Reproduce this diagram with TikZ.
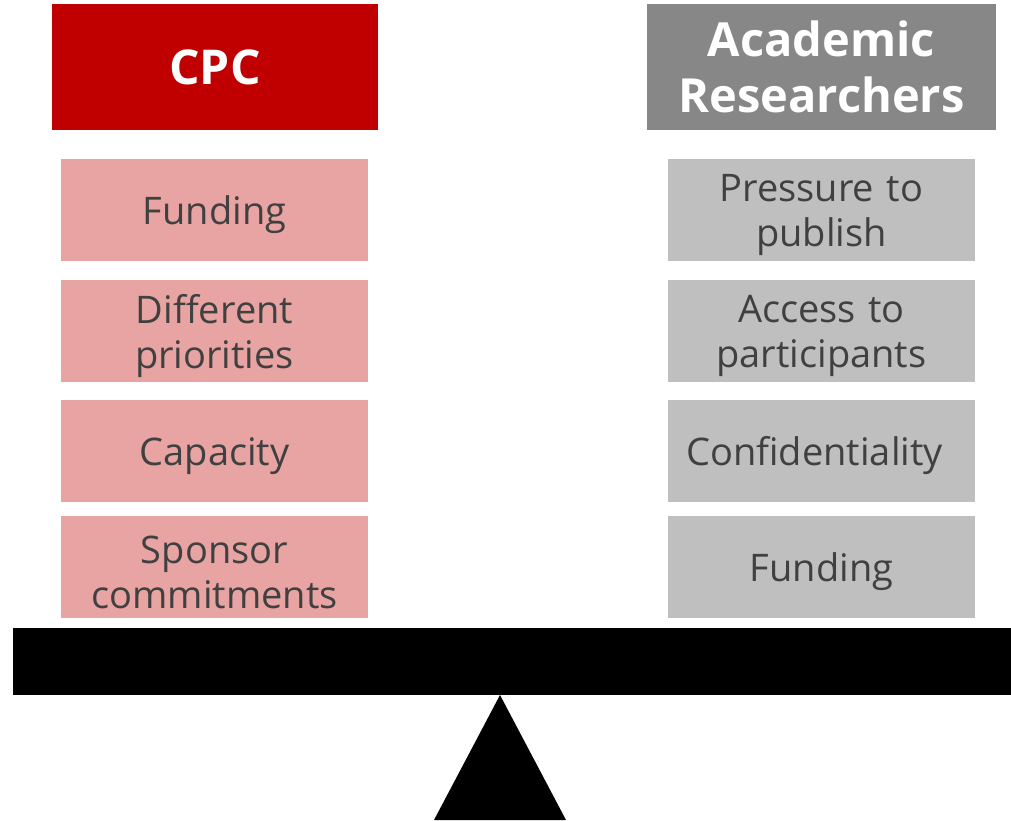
\documentclass[tikz,border=0pt]{standalone}
\usepackage{fontspec}
\setmainfont{Open Sans}
\definecolor{cpcred}{HTML}{C00000}
\definecolor{headgray}{HTML}{878787}
\definecolor{pinkbox}{HTML}{E8A3A3}
\definecolor{graybox}{HTML}{BFBFBF}
\definecolor{txtgray}{HTML}{404040}
\begin{document}
\begin{tikzpicture}[x=1pt,y=-1pt,
  header/.style={rectangle, inner sep=0pt, text=white, align=center},
  itemtext/.style={inner sep=0pt, text width=307pt, text=txtgray, align=center,
    font=\fontsize{38}{45}\selectfont, yshift=-5pt},
  item/.style={rectangle, inner sep=0pt, minimum width=307pt, minimum height=102pt,
    label={[itemtext]center:#1}},
  leftitem/.style={item={#1}, fill=pinkbox},
  rightitem/.style={item={#1}, fill=graybox}]
\useasboundingbox (0,0) rectangle (1011,820);
\node[header, fill=cpcred, minimum width=326pt, minimum height=126pt,
  font=\fontsize{48}{56}\selectfont\bfseries] (cpc) at (215,67) {CPC};
\node[header, fill=headgray, minimum width=349pt, minimum height=126pt, text width=349pt,
  font=\fontsize{47}{56}\selectfont\bfseries] (acad) at (821.5,67) {Academic\\Researchers};
\node[leftitem={Funding}] (l1) at (214.5,210) {};
\node[leftitem={Different\\priorities}] (l2) at (214.5,331) {};
\node[leftitem={Capacity}] (l3) at (214.5,451) {};
\node[leftitem={Sponsor\\commitments}] (l4) at (214.5,567) {};
\node[rightitem={Pressure to\\publish}] (r1) at (821.5,210) {};
\node[rightitem={Access to\\participants}] (r2) at (821.5,331) {};
\node[rightitem={\hspace*{-14pt}Confidentiality}] (r3) at (821.5,451) {};
\node[rightitem={Funding}] (r4) at (821.5,567) {};
\fill[black] (13,628) rectangle (1011,695);
\fill[black] (500,695) -- (566,820) -- (434,820) -- cycle;
\end{tikzpicture}
\end{document}
